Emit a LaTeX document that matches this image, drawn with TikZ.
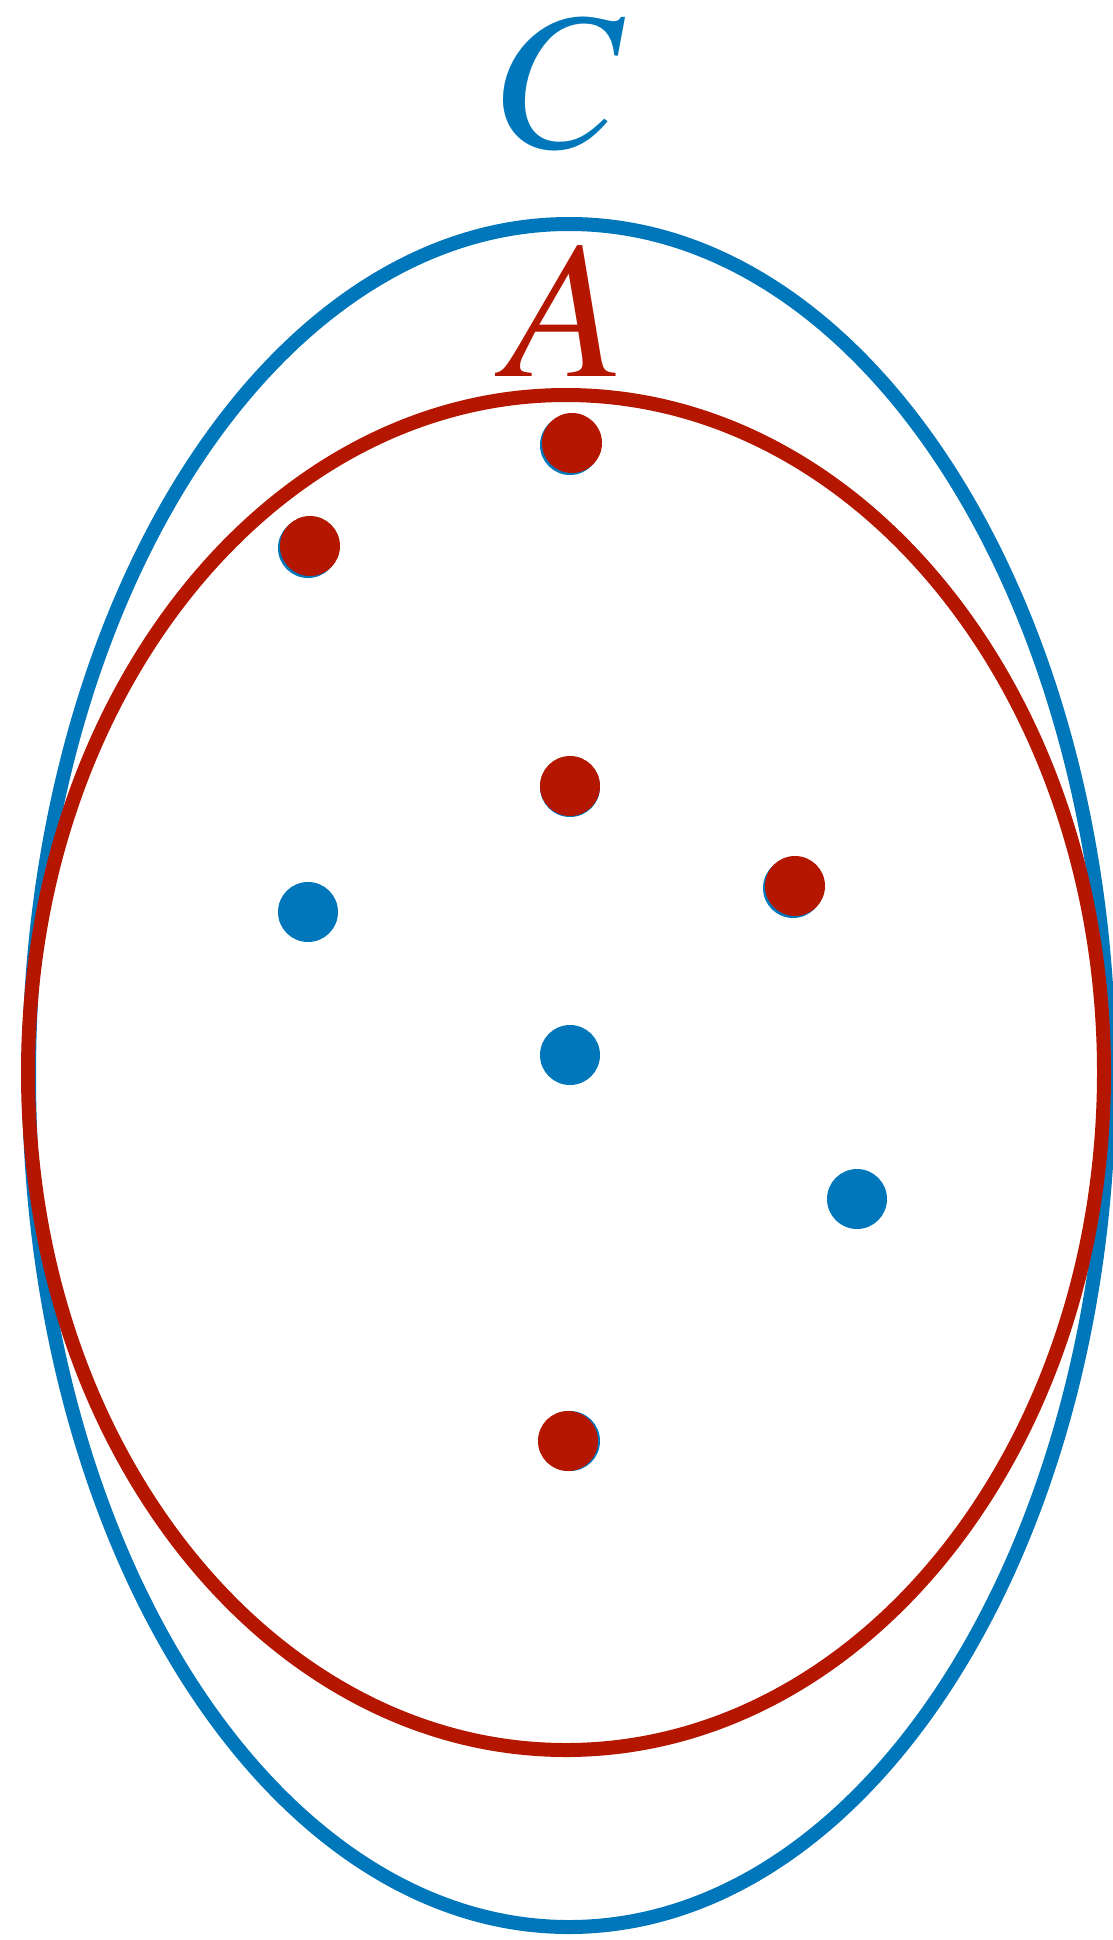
\documentclass[tikz,border=0pt]{standalone}
\usepackage[T1]{fontenc}
\definecolor{cblue}{RGB}{0,119,187}
\definecolor{cred}{RGB}{180,22,0}
\tikzset{
  setlabel/.style={font=\fontsize{196}{200}\usefont{T1}{ptm}{m}{it}, anchor=base, inner sep=0pt},
  bluedot/.style={circle, fill=cblue, minimum size=60pt, inner sep=0pt},
  reddot/.style={circle, fill=cred, minimum size=60pt, inner sep=0pt},
  setline/.style={line width=14pt}
}
\begin{document}
\begin{tikzpicture}[x=1pt,y=-1pt]
\useasboundingbox (0,0) rectangle (1112,1940);
\draw[setline, cblue] (569,1075.5) ellipse [x radius=540, y radius=851.5];
\draw[setline, cred] (566,1072.5) ellipse [x radius=538, y radius=677.5];
\node[setlabel, text=cblue] (C) at (556,147) {C};
\node[setlabel, text=cred] (A) at (565,376) {A};
% blue dots
\node[bluedot] (b1) at (570,445) {};
\node[bluedot] (b2) at (308,548) {};
\node[bluedot] (b3) at (570,787) {};
\node[bluedot] (b4) at (793,888) {};
\node[bluedot] (b5) at (308,912) {};
\node[bluedot] (b6) at (570,1055) {};
\node[bluedot] (b7) at (857,1199) {};
\node[bluedot] (b8) at (570,1441) {};
% red dots
\node[reddot] (r1) at (572,443) {};
\node[reddot] (r2) at (310,546) {};
\node[reddot] (r3) at (570,786) {};
\node[reddot] (r4) at (795,886) {};
\node[reddot] (r8) at (568,1441) {};
\end{tikzpicture}
\end{document}
